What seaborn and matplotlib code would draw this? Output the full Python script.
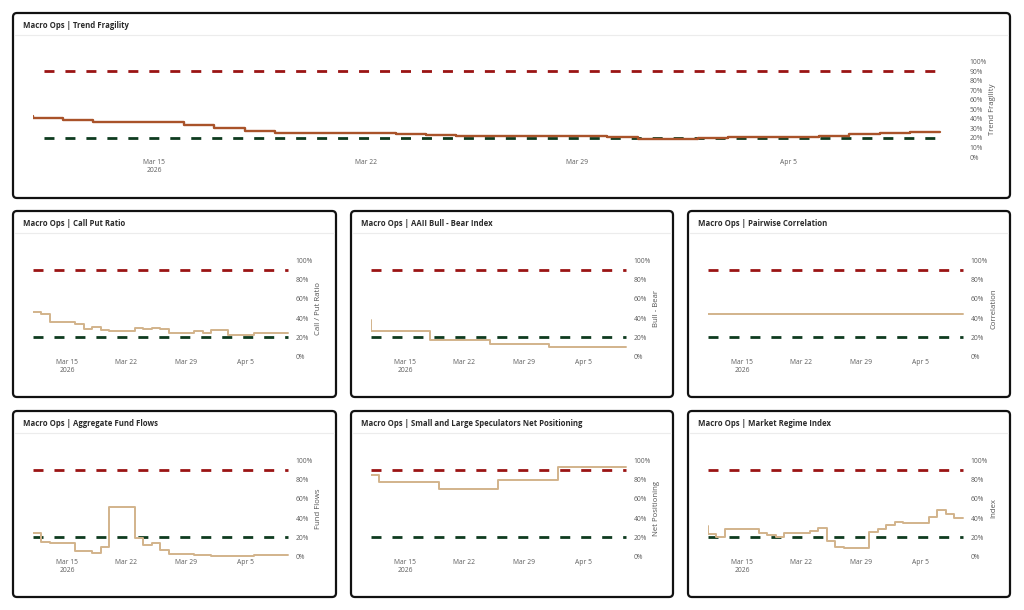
import matplotlib
matplotlib.use("Agg")
import numpy as np
import pandas as pd
import matplotlib.pyplot as plt
from matplotlib.patches import FancyBboxPatch
import seaborn as sns

W, H = 1024, 610

START = "2026-03-11"
END = "2026-04-10"
TICK_DATES = ["2026-03-15", "2026-03-22", "2026-03-29", "2026-04-05"]
TICK_LABELS = ["Mar 15\n2026", "Mar 22", "Mar 29", "Apr 5"]
UPPER_LEVEL = 90
LOWER_LEVEL = 20

# step series: change points as (day offset from START, value in %)
fragility_days = [0, 0, 1, 2, 5, 6, 7, 8, 12, 13, 14, 16, 19, 20, 22, 23, 26, 27, 28, 29, 30]
fragility_vals = [43, 41, 38.5, 36.5, 33.5, 30.5, 27.5, 25.5, 24.5, 23.5, 22.5, 21.5,
                  20.5, 18.5, 19.8, 20.5, 22.5, 24, 25, 26, 26]

callput_days = [0, 1, 2, 5, 6, 7, 8, 9, 12, 13, 14, 15, 16, 19, 20, 21, 23, 26, 30]
callput_vals = [46, 44, 36, 34, 28.5, 31, 28, 26.5, 30, 29, 30, 29, 24, 26.5, 25, 27.5, 22, 24, 24]

aaii_days = [0, 0, 7, 14, 21, 30]
aaii_vals = [38, 27, 17, 13, 9.5, 9.5]

pairwise_days = [0, 30]
pairwise_vals = [44, 44]

flows_days = [0, 1, 2, 5, 7, 8, 9, 12, 13, 14, 15, 16, 19, 21, 26, 30]
flows_vals = [25, 15, 14, 6, 4, 9.5, 51.5, 19, 12, 14.5, 7, 3, 1.5, 0.5, 1.5, 1.5]

specs_days = [0, 1, 8, 15, 22, 30]
specs_vals = [84.5, 77.5, 70.5, 80, 93.5, 93.5]

regime_days = [0, 0, 1, 2, 6, 7, 8, 9, 12, 13, 14, 15, 16, 19, 20, 21, 22, 23, 26, 27, 28, 29, 30]
regime_vals = [32, 23, 20.7, 28.6, 24, 22.4, 20.7, 24.5, 27, 29.3, 16.5, 10.3, 8.6,
               25.5, 28.3, 32.8, 35.5, 34.5, 41.4, 48, 43.8, 39.7, 39.7]

RED = "#9a1414"
GREEN = "#0e3b1f"
BROWN = "#a9532a"
TAN = "#d2b38b"
TEXT = "#2a2a2a"
TICK = "#5e5e5e"

sns.set_theme(style="white")
plt.rcParams["font.family"] = ["Open Sans", "DejaVu Sans"]
plt.rcParams["lines.scale_dashes"] = False

fig = plt.figure(figsize=(W / 100, H / 100), dpi=100)
fig.patch.set_facecolor("white")

# background layer in pixel coordinates for panel frames
bg = fig.add_axes([0, 0, 1, 1])
bg.set_xlim(0, W)
bg.set_ylim(H, 0)
bg.axis("off")

t0 = pd.Timestamp(START)


def px_rect(left, top, right, bottom):
    return [left / W, 1 - bottom / H, (right - left) / W, (bottom - top) / H]


def draw_frame(left, top, right, bottom, title, sep_y):
    bg.add_patch(FancyBboxPatch((left, top), right - left, bottom - top,
                                boxstyle="round,pad=0,rounding_size=4",
                                fc="white", ec="#111111", lw=1.6))
    bg.plot([left + 2, right - 2], [sep_y, sep_y], color="#ececec", lw=0.8)
    bg.text(left + 10, sep_y - 10, title, fontsize=5.6, fontweight="bold",
            color=TEXT, va="center", ha="left")


def draw_chart(rect, data_end_px, px_per_day, days, vals, color, ylabel,
               ystep, dash_offset, line_w):
    ax = fig.add_axes(px_rect(*rect))
    df = pd.DataFrame({"date": t0 + pd.to_timedelta(days, unit="D"), "value": vals})
    extra = (rect[2] - data_end_px) / px_per_day
    end = pd.Timestamp(END)

    for level, col in [(UPPER_LEVEL, RED), (LOWER_LEVEL, GREEN)]:
        ax.plot([t0, end], [level, level], color=col, lw=2.0,
                linestyle=(dash_offset, (7.2, 7.9)), solid_capstyle="butt")

    sns.lineplot(data=df, x="date", y="value", ax=ax, color=color, lw=line_w,
                 drawstyle="steps-post", estimator=None, sort=False)

    ax.set_xlim(t0, end + pd.Timedelta(days=extra))
    ax.set_ylim(0, 100)
    ax.set_xticks(pd.to_datetime(TICK_DATES))
    ax.set_xticklabels(TICK_LABELS)
    yt = np.arange(0, 101, ystep)
    ax.set_yticks(yt)
    ax.set_yticklabels([f"{v}%" for v in yt])
    ax.yaxis.tick_right()
    ax.yaxis.set_label_position("right")
    ax.set_xlabel("")
    ax.set_ylabel(ylabel, fontsize=5.6, color="#555555", labelpad=2)
    ax.tick_params(axis="both", length=0, labelsize=4.9, labelcolor=TICK)
    ax.tick_params(axis="x", pad=1.5)
    ax.tick_params(axis="y", pad=2.5)
    for s in ax.spines.values():
        s.set_visible(False)
    ax.set_facecolor("none")
    ax.grid(False)
    return ax


# top wide panel
draw_frame(13, 13, 1010, 198, "Macro Ops | Trend Fragility", 35)
draw_chart((33, 61.5, 966, 157), 940, 907 / 30, fragility_days, fragility_vals,
           BROWN, "Trend Fragility", 10, 7.2, 1.7)

small = [
    ("Macro Ops | Call Put Ratio", "Call / Put Ratio", callput_days, callput_vals),
    ("Macro Ops | AAII Bull - Bear Index", "Bull - Bear", aaii_days, aaii_vals),
    ("Macro Ops | Pairwise Correlation", "Correlation", pairwise_days, pairwise_vals),
    ("Macro Ops | Aggregate Fund Flows", "Fund Flows", flows_days, flows_vals),
    ("Macro Ops | Small and Large Speculators Net Positioning", "Net Positioning",
     specs_days, specs_vals),
    ("Macro Ops | Market Regime Index", "Index", regime_days, regime_vals),
]
cols = [(13, 336), (351, 673), (688, 1010)]
rows = [(211, 397), (411, 597)]

for i, (title, ylab, d, v) in enumerate(small):
    bl, br = cols[i % 3]
    bt, bb = rows[i // 3]
    draw_frame(bl, bt, br, bb, title, bt + 22)
    draw_chart((bl + 20, bt + 49.5, bl + 279, bt + 145.5), bl + 275, 255 / 30,
               d, v, TAN, ylab, 20, 0, 1.4)

fig.savefig("out.png", dpi=100, facecolor="white")
